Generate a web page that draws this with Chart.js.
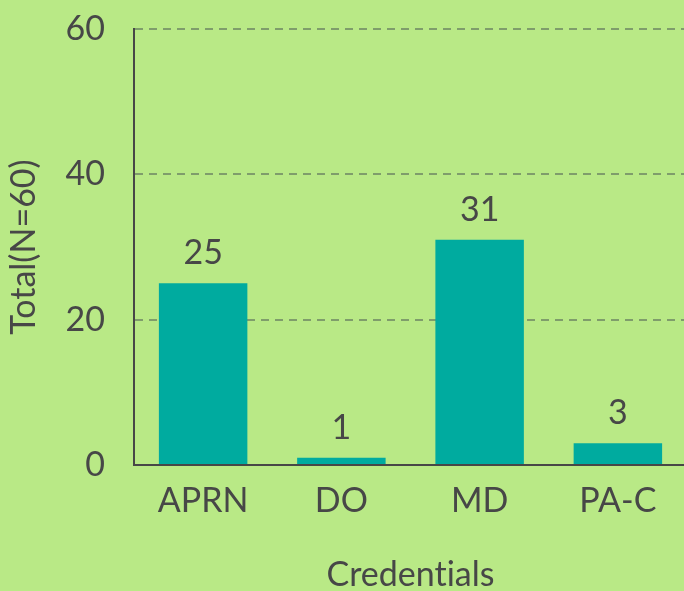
<!DOCTYPE html>
<html>
<head>
<meta charset="utf-8">
<title>Credentials</title>
<script src="https://cdn.jsdelivr.net/npm/chart.js@4/dist/chart.umd.min.js"></script>
<style>
    html, body {
        margin: 0;
        padding: 0;
        overflow: hidden;
        background: #b9e986;
    }
    .chart-box {
        position: relative;
        width: 687px;
        height: 595px;
    }
</style>
</head>
<body>
<div class="chart-box">
    <canvas id="credenciaisChart"></canvas>
</div>
<script>
// Dados do gráfico
const categorias = ['APRN', 'DO', 'MD', 'PA-C'];
const totais = [25, 1, 31, 3];
const yMax = 60;
const yPasso = 20;

const corTexto = '#474747';
const corBarra = '#00ab9f';
const corGrade = '#7f9d6b';
const fonte = 'Lato';
const tamanhoFonte = 34;

// Plugin simples para escrever o valor acima de cada barra
const rotulosBarras = {
    id: 'rotulosBarras',
    afterDatasetsDraw(chart) {
        const ctx = chart.ctx;
        const meta = chart.getDatasetMeta(0);
        ctx.save();
        ctx.font = tamanhoFonte + 'px ' + fonte;
        ctx.fillStyle = corTexto;
        ctx.textAlign = 'center';
        ctx.textBaseline = 'alphabetic';
        meta.data.forEach((barra, i) => {
            ctx.fillText(String(chart.data.datasets[0].data[i]), barra.x, barra.y - 19);
        });
        ctx.restore();
    }
};

document.addEventListener('DOMContentLoaded', function() {
    const ctx = document.getElementById('credenciaisChart').getContext('2d');

    new Chart(ctx, {
        type: 'bar',
        data: {
            labels: categorias,
            datasets: [{
                data: totais,
                backgroundColor: corBarra,
                borderWidth: 0,
                barPercentage: 0.64,
                categoryPercentage: 1
            }]
        },
        options: {
            responsive: true,
            maintainAspectRatio: false,
            animation: false,
            layout: {
                padding: { top: 29, left: 4, right: 0, bottom: 0 }
            },
            plugins: {
                legend: { display: false },
                tooltip: { enabled: false }
            },
            scales: {
                x: {
                    grid: { display: false, drawTicks: false },
                    border: { color: corTexto, width: 2 },
                    ticks: {
                        color: corTexto,
                        font: { family: fonte, size: tamanhoFonte },
                        padding: 16
                    },
                    title: {
                        display: true,
                        // ZWNJ evita a ligadura "ti" do Lato
                        text: 'Credent\u200Cials',
                        color: corTexto,
                        font: { family: fonte, size: tamanhoFonte },
                        padding: { top: 0, bottom: 0 }
                    },
                    // altura fixa do eixo para acertar a posição da base
                    afterFit: function(scale) {
                        scale.height = 130;
                    }
                },
                y: {
                    min: 0,
                    max: yMax,
                    ticks: {
                        stepSize: yPasso,
                        color: corTexto,
                        font: { family: fonte, size: tamanhoFonte },
                        padding: 29
                    },
                    grid: {
                        color: corGrade,
                        lineWidth: 2,
                        drawTicks: false
                    },
                    border: { color: corTexto, width: 2, dash: [8, 6] },
                    title: {
                        display: true,
                        text: 'Total(N=60)',
                        color: corTexto,
                        font: { family: fonte, size: tamanhoFonte },
                        padding: { top: 0, bottom: 0 }
                    },
                    // largura fixa do eixo e sem margem extra no topo
                    afterFit: function(scale) {
                        scale.width = 130;
                        scale.paddingTop = 0;
                        scale.paddingBottom = 0;
                    }
                }
            }
        },
        plugins: [rotulosBarras]
    });
});
</script>
</body>
</html>
